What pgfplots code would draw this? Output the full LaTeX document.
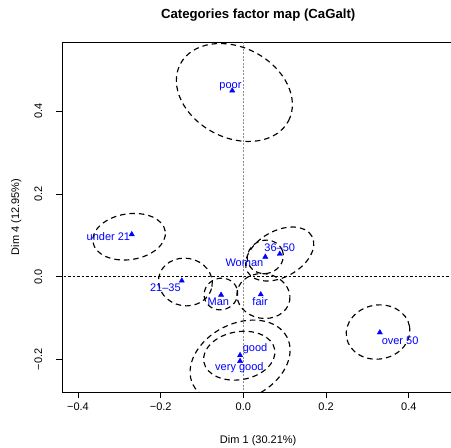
\documentclass[border=0pt]{standalone}
\usepackage{pgfplots}
\pgfplotsset{compat=1.18}
\usepackage{fontspec}
\setmainfont{Liberation Sans}
\usetikzlibrary{calc}
\definecolor{labblue}{RGB}{0,0,255}
\definecolor{vgray}{RGB}{140,140,140}
\begin{document}
\begin{tikzpicture}
\begin{axis}[
  name=ax, at={(0,0)}, anchor=south west,
  scale only axis, width=392.4pt, height=350pt,
  xmin=-0.4387, xmax=0.5103, ymin=-0.2788, ymax=0.5676,
  xtick={-0.4,-0.2,0,0.2,0.4}, xticklabels={−0.4,−0.2,0.0,0.2,0.4},
  ytick={-0.2,0,0.2,0.4}, yticklabels={−0.2,0.0,0.2,0.4},
  tick align=outside, tick pos=left, major tick length=6pt,
  tick style={black, line width=0.7pt},
  axis line style={black, line width=0.7pt},
  ticklabel style={font=\fontsize{11}{13}\selectfont},
  xticklabel style={anchor=center, yshift=-8.5pt},
  yticklabel style={rotate=90, anchor=center},
  yticklabel shift=17.7pt,
  /pgf/number format/assume math mode=true,
  clip mode=global,
]
\addplot[forget plot, black, line width=0.8pt, dash pattern=on 2.5pt off 2pt] coordinates {(-0.5,0) (0.6,0)};
\addplot[forget plot, vgray, line width=1.6pt, dash pattern=on 2pt off 1.5pt] coordinates {(0,-0.3) (0,0.6)};

% confidence ellipses
\begin{scope}[black, line width=1.15pt, dash pattern=on 5.5pt off 4pt]
\draw[rotate around={-27.7:(axis cs:-0.0218,0.4455)}] (axis cs:-0.0218,0.4455) ellipse [x radius=0.1478, y radius=0.109];
\draw[rotate around={8.6:(axis cs:-0.2764,0.0967)}] (axis cs:-0.2764,0.0967) ellipse [x radius=0.0884, y radius=0.0554];
\draw[rotate around={-10:(axis cs:-0.1403,-0.0128)}] (axis cs:-0.1403,-0.0128) ellipse [x radius=0.0653, y radius=0.0575];
\draw[rotate around={20:(axis cs:-0.0544,-0.0418)}] (axis cs:-0.0544,-0.0418) ellipse [x radius=0.041, y radius=0.038];
\draw[rotate around={20:(axis cs:0.053,0.048)}] (axis cs:0.053,0.048) ellipse [x radius=0.044, y radius=0.040];
\draw[rotate around={-10:(axis cs:0.0484,-0.0467)}] (axis cs:0.0484,-0.0467) ellipse [x radius=0.0645, y radius=0.054];
\draw[rotate around={29:(axis cs:0.0878,0.0549)}] (axis cs:0.0878,0.0549) ellipse [x radius=0.089, y radius=0.056];
\draw[rotate around={10:(axis cs:-0.010,-0.191)}] (axis cs:-0.010,-0.191) ellipse [x radius=0.087, y radius=0.058];
\draw[rotate around={26.6:(axis cs:-0.008,-0.204)}] (axis cs:-0.008,-0.204) ellipse [x radius=0.1274, y radius=0.0907];
\draw[rotate around={10:(axis cs:0.3257,-0.1338)}] (axis cs:0.3257,-0.1338) ellipse [x radius=0.0774, y radius=0.0653];
\end{scope}

\addplot[only marks, mark=triangle*, mark size=3pt, color=labblue] coordinates {
(-0.027,0.450) (-0.270,0.1025) (-0.149,-0.0097) (-0.054,-0.044) (0.042,-0.043)
(0.053,0.048) (0.088,0.055) (-0.008,-0.190) (-0.008,-0.204) (0.330,-0.135)};

\begin{scope}[every node/.style={text=labblue, font=\fontsize{11}{13}\selectfont, inner sep=0pt, anchor=center}]
\node at (axis cs:-0.0314,0.459) {poor};
\node at (axis cs:-0.3265,0.096) {under 21};
\node at (axis cs:-0.1886,-0.0266) {21–35};
\node at (axis cs:-0.0605,-0.0605) {Man};
\node at (axis cs:0.0404,-0.0605) {fair};
\node at (axis cs:0.0024,0.0348) {Woman};
\node at (axis cs:0.0878,0.0694) {36–50};
\node at (axis cs:0.0283,-0.1748) {good};
\node at (axis cs:-0.0097,-0.2191) {very good};
\node at (axis cs:0.379,-0.1538) {over 50};
\end{scope}
\end{axis}
\node[font=\fontsize{13.2}{15}\selectfont\bfseries, anchor=center] at ($(ax.north west)+(196.2pt,27pt)$) {Categories factor map (CaGalt)};
\node[font=\fontsize{11}{13}\selectfont, anchor=center] at ($(ax.south west)+(196.2pt,-48.7pt)$) {Dim 1 (30.21\%)};
\node[font=\fontsize{11}{13}\selectfont, anchor=center, rotate=90] at ($(ax.south west)+(-45.7pt,175pt)$) {Dim 4 (12.95\%)};
\pgfresetboundingbox
\useasboundingbox ($(ax.south west)+(-62pt,-56pt)$) rectangle ($(ax.south west)+(389pt,392pt)$);
\end{tikzpicture}
\end{document}
